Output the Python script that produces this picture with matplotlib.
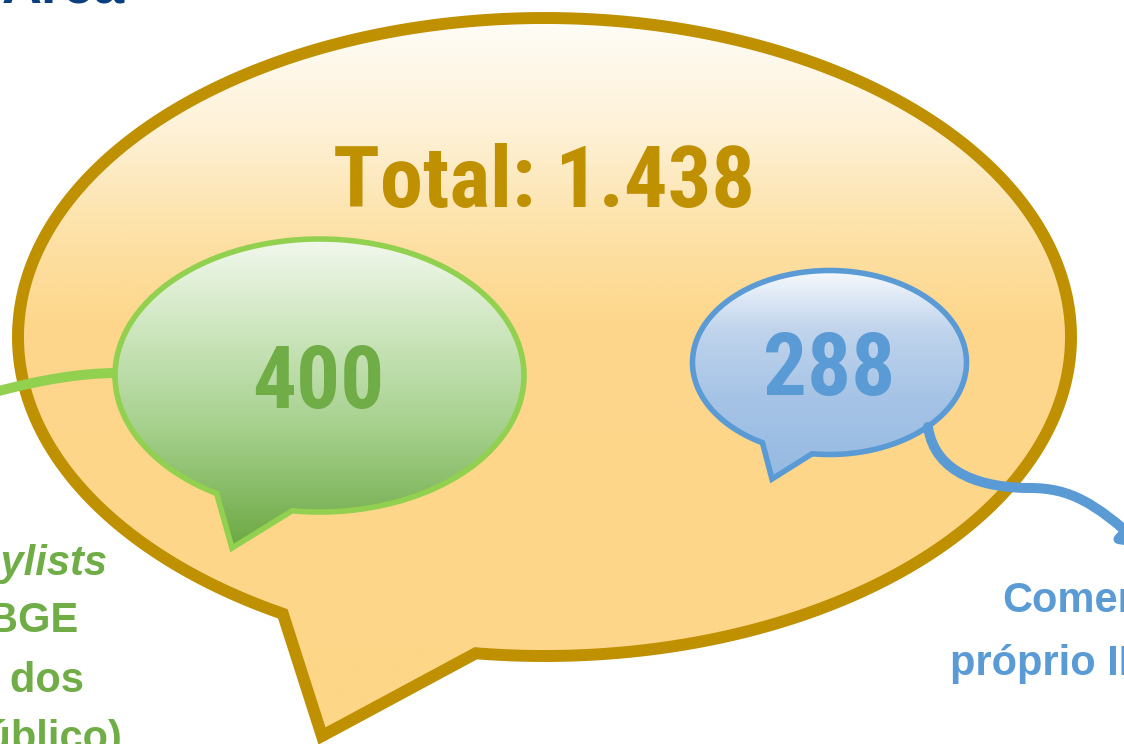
import numpy as np
import matplotlib
matplotlib.use("Agg")
import matplotlib.pyplot as plt
from matplotlib.path import Path
from matplotlib.patches import PathPatch, FancyArrowPatch
from matplotlib import font_manager as fm

# ---- data ----
total_value = 1438
segment_labels = ["Playlists", "Comentários"]
segment_values = [400, 288]
total_label = "Total: 1.438"
left_lines = ["Playlists", "do IBGE", "(28% dos", "público)"]
right_lines = ["Comentários", "próprio IBGE"]
title_text = "Área"

W, H = 1124, 744
fig = plt.figure(figsize=(W / 100, H / 100), dpi=100)
ax = fig.add_axes([0, 0, 1, 1])
ax.set_xlim(0, W)
ax.set_ylim(H, 0)
ax.axis("off")

GOLD = "#bf9000"
GREEN_LINE = "#92d050"
GREEN_TXT = "#70ad47"
BLUE = "#5b9bd5"

PLAIN = ["Liberation Sans", "Arial", "DejaVu Sans"]


def find_narrow(italic=False):
    prefs = ["Liberation Sans Narrow", "Roboto Condensed", "Open Sans Condensed",
             "DejaVu Sans Condensed", "DejaVu Sans"]
    cands = []
    for f in fm.fontManager.ttflist:
        narrow = ("Narrow" in f.name or "Condensed" in f.name or
                  "Narrow" in f.fname or "Condensed" in f.fname or
                  str(f.stretch) in ("condensed", "semi-condensed", "extra-condensed"))
        if not narrow:
            continue
        w = f.weight if isinstance(f.weight, int) else (700 if "bold" in str(f.weight) else 400)
        if w < 600:
            continue
        is_it = f.style in ("italic", "oblique")
        if is_it != italic:
            continue
        rank = prefs.index(f.name) if f.name in prefs else len(prefs)
        cands.append((rank, f.fname))
    if cands:
        cands.sort()
        return fm.FontProperties(fname=cands[0][1])
    return fm.FontProperties(family=PLAIN, weight="bold",
                             style="italic" if italic else "normal")


FP = find_narrow(False)


def bubble_path(cx, cy, a, b, t_right, t_left, tip, n=400):
    ts = np.radians(np.linspace(t_left, t_right + 360, n))
    xs = cx + a * np.cos(ts)
    ys = cy + b * np.sin(ts)
    verts = list(zip(xs, ys)) + [tip, (xs[0], ys[0])]
    codes = [Path.MOVETO] + [Path.LINETO] * (len(verts) - 2) + [Path.CLOSEPOLY]
    return Path(verts, codes)


def gradient_fill(path, stops, lw, ec, z):
    ext = path.get_extents()
    x0, x1, y0, y1 = ext.x0 - 5, ext.x1 + 5, ext.y0 - 5, ext.y1 + 5
    ys = np.linspace(y0, y1, 300)
    sy = [s[0] for s in stops]
    cols = np.array([s[1] for s in stops], dtype=float) / 255.0
    img = np.stack([np.interp(ys, sy, cols[:, k]) for k in range(3)], axis=1)
    img = img[:, None, :].repeat(2, axis=1)
    im = ax.imshow(img, extent=(x0, x1, y1, y0), origin="upper",
                   aspect="auto", zorder=z, interpolation="bilinear")
    patch = PathPatch(path, facecolor="none", edgecolor=ec, lw=lw, zorder=z + 0.5,
                      joinstyle="miter")
    ax.add_patch(patch)
    clip = PathPatch(path, transform=ax.transData, facecolor="none", edgecolor="none")
    im.set_clip_path(clip)
    ax.set_xlim(0, W)
    ax.set_ylim(H, 0)


# big bubble
big = bubble_path(544.5, 337, 526.5, 319, 97.5, 119.8, (322, 736))
gradient_fill(big, [(18, (255, 253, 248)), (130, (254, 241, 214)),
                    (220, (253, 227, 172)), (320, (253, 215, 140)),
                    (760, (253, 214, 136))], 8.6, GOLD, 1)

# green connector
gpath = Path([(-5, 392), (40, 380), (80, 373), (118, 373)],
             [Path.MOVETO, Path.CURVE4, Path.CURVE4, Path.CURVE4])
ax.add_patch(PathPatch(gpath, facecolor="none", edgecolor=GREEN_LINE, lw=7.2,
                       capstyle="butt", zorder=3))

# green bubble
green = bubble_path(319.5, 375.5, 204.5, 136.5, 97.7, 120.2, (232, 548))
gradient_fill(green, [(239, (242, 248, 237)), (330, (205, 230, 190)),
                      (430, (165, 208, 140)), (548, (108, 168, 66))], 4.0, GREEN_LINE, 4)

# blue bubble
blue = bubble_path(829.5, 362.5, 137, 92, 97.3, 119.3, (772, 479))
gradient_fill(blue, [(270, (247, 250, 253)), (330, (192, 212, 236)),
                     (400, (165, 195, 230)), (479, (150, 186, 226))], 4.0, BLUE, 4)

# blue connector with arrow
bpath = Path([(928, 427), (935, 475), (985, 488), (1030, 488),
              (1070, 488), (1095, 503), (1145, 548)],
             [Path.MOVETO, Path.CURVE4, Path.CURVE4, Path.CURVE4,
              Path.CURVE4, Path.CURVE4, Path.CURVE4])
arr = FancyArrowPatch(path=bpath, arrowstyle="-|>,head_length=12,head_width=8",
                      color=BLUE, lw=7.2, zorder=6, mutation_scale=1)
ax.add_patch(arr)

# ---- texts ----
renderer = fig.canvas.get_renderer()
t_total = ax.text(544, 207, total_label, color=GOLD, fontproperties=FP, fontsize=67,
                  ha="center", va="baseline", zorder=10)
bb = t_total.get_window_extent(renderer)
scale = min(422.0 / bb.width, 1.0)
big_size = 67 * scale
t_total.set_fontsize(big_size)

ax.text(318, 408, f"{segment_values[0]}", color=GREEN_TXT, fontproperties=FP,
        fontsize=big_size * 1.01, ha="center", va="baseline", zorder=10)
ax.text(829, 395, f"{segment_values[1]}", color=BLUE, fontproperties=FP,
        fontsize=big_size * 1.01, ha="center", va="baseline", zorder=10)

small_size = 30
left_right_x = [107, 78, 84, 122]
left_base_y = [575, 632, 692, 750]
for i, (t, xr, yb) in enumerate(zip(left_lines, left_right_x, left_base_y)):
    ax.text(xr, yb, t, color=GREEN_TXT, family=PLAIN, fontweight="bold",
            fontstyle="italic" if i == 0 else "normal",
            fontsize=small_size, ha="right", va="baseline", zorder=10)

right_left_x = [1002, 950]
right_base_y = [612, 675]
for t, xl, yb in zip(right_lines, right_left_x, right_base_y):
    ax.text(xl, yb, t, color=BLUE, family=PLAIN, fontweight="bold",
            fontsize=small_size, ha="left", va="baseline", zorder=10)

ax.text(125, 3, title_text, color="#0b3f80", family=PLAIN, fontweight="bold",
        fontsize=40, ha="right", va="baseline", zorder=10)

fig.savefig("out.png", dpi=100)
